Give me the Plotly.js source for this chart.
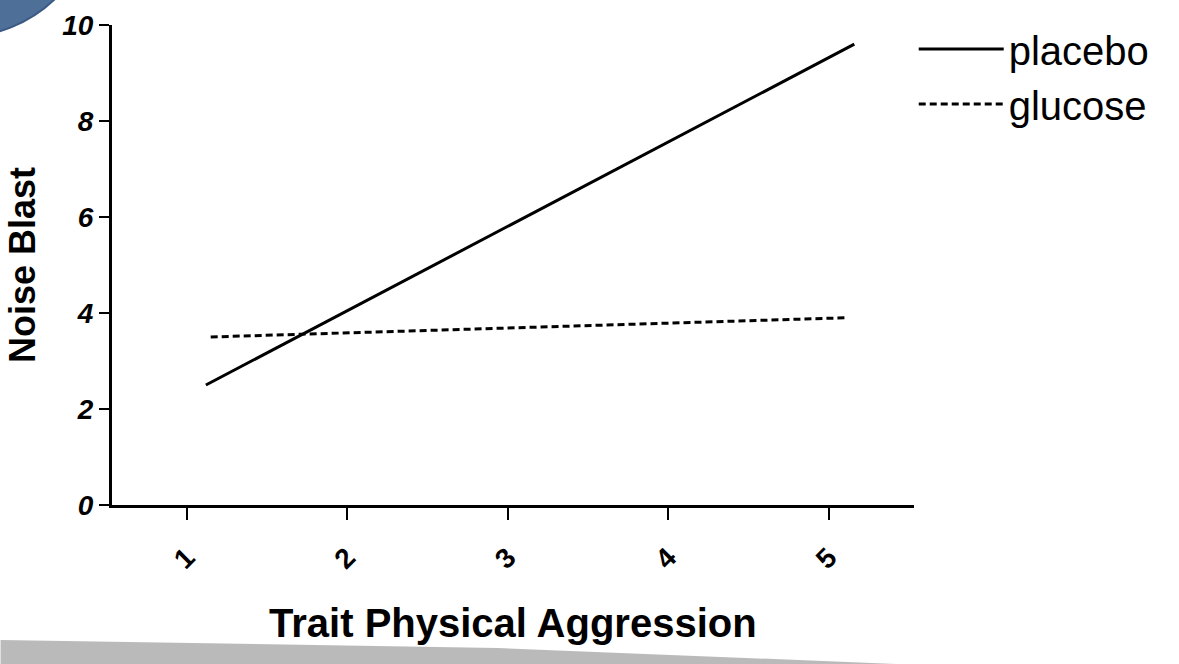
<!DOCTYPE html>
<html>
<head>
<meta charset="utf-8">
<script src="https://cdn.plot.ly/plotly-3.0.1.min.js"></script>
<style>html,body{margin:0;padding:0;background:#fff;}#chart{width:1179px;height:664px;}</style>
</head>
<body>
<div id="chart"></div>
<script>
const xEnds = [1.12, 5.16];
const placebo = [2.5, 9.6];
const glucoseX = [1.15, 5.1];
const glucose = [3.5, 3.9];
const xTicks = [1, 2, 3, 4, 5];
const yTicks = [0, 2, 4, 6, 8, 10];

const traces = [
  {x: xEnds, y: placebo, name: 'placebo', mode: 'lines', line: {color: '#000', width: 3}},
  {x: glucoseX, y: glucose, name: 'glucose', mode: 'lines', line: {color: '#000', width: 3, dash: '7px,4px'}}
];

const layout = {
  width: 1179, height: 664,
  margin: {l: 112, r: 261, t: 25, b: 159},
  paper_bgcolor: '#fff', plot_bgcolor: '#fff',
  font: {family: 'Liberation Sans, Arial, sans-serif', color: '#000'},
  xaxis: {
    range: [0.535, 5.53], tickvals: xTicks, ticktext: xTicks.map(String),
    showgrid: false, zeroline: false, showline: true, linecolor: '#000', linewidth: 3,
    ticks: 'outside', ticklen: 12, tickwidth: 2, tickcolor: '#000', tickangle: -45,
    ticklabelstandoff: 10,
    tickfont: {size: 28, weight: 'bold'},
    title: {text: 'Trait Physical Aggression', font: {size: 40, weight: 'bold'}, standoff: 36}
  },
  yaxis: {
    range: [0, 10], tickvals: yTicks, ticktext: yTicks.map(String),
    showgrid: false, zeroline: false, showline: true, linecolor: '#000', linewidth: 3,
    ticks: 'outside', ticklen: 10, tickwidth: 2, tickcolor: '#000',
    tickfont: {size: 28, weight: 'bold', style: 'italic'},
    title: {text: 'Noise Blast', font: {size: 36, weight: 'bold'}, standoff: 16}
  },
  legend: {
    xref: 'container', yref: 'container', x: 0.775, y: 0.975, xanchor: 'left', yanchor: 'top',
    font: {size: 40}, bgcolor: 'rgba(0,0,0,0)', tracegroupgap: 0, itemwidth: 85
  },
  showlegend: true,
  shapes: [
    {type: 'circle', xref: 'paper', yref: 'paper', x0: -0.3586, x1: -0.0186, y0: 0.975, y1: 1.546,
     fillcolor: '#4d6f98', line: {color: '#3a5a85', width: 2}, layer: 'above'},
    {type: 'path', xref: 'paper', yref: 'paper',
     path: 'M -0.139 -0.281 L 0.481 -0.298 L 0.978 -0.331 L -0.139 -0.331 Z',
     fillcolor: 'rgba(140,140,140,0.6)', line: {width: 0}, layer: 'above'}
  ]
};

Plotly.newPlot('chart', traces, layout, {displayModeBar: false, staticPlot: true});
</script>
</body>
</html>
